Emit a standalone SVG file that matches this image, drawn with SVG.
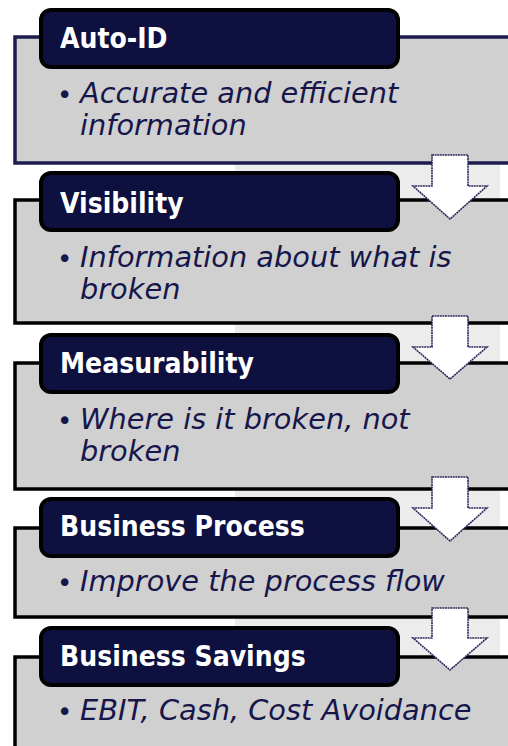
<svg xmlns="http://www.w3.org/2000/svg" width="508" height="746" viewBox="0 0 508 746">
<style>
.panel{fill:#d0d0d0;stroke:#000;stroke-width:3.5}
.panel1{stroke:#1c1c4e}
.hdr{fill:#0e1040;stroke:#000;stroke-width:4}
.ht{font-family:"DejaVu Sans Condensed","DejaVu Sans",sans-serif;font-stretch:condensed;font-weight:bold;font-size:28px;fill:#fff}
.bt{font-family:"DejaVu Sans",sans-serif;font-style:italic;font-size:28.8px;fill:#16164a}
.bl{font-family:"DejaVu Sans",sans-serif;font-size:26px;fill:#16164a}
.arr{fill:#fff;stroke:#2a2a5c;stroke-width:1.6;stroke-dasharray:2 0.6}
</style>
<rect x="0" y="0" width="508" height="746" fill="#fff"/>
<rect x="235" y="164" width="265" height="582" fill="#ececec"/>
<g id="auto-id">
<rect class="panel panel1" x="15" y="37" width="520" height="126"/>
<rect class="hdr" x="41" y="10" width="357" height="57" rx="10"/>
<text class="ht" x="60" y="48">Auto-ID</text>
<text class="bl" x="57" y="104">•</text>
<text class="bt" x="80" y="103">Accurate and efficient</text>
<text class="bt" x="80" y="135">information</text>
</g>
<g id="visibility">
<rect class="panel" x="15" y="200" width="520" height="123"/>
<rect class="hdr" x="41" y="173" width="357" height="57" rx="10"/>
<text class="ht" x="60" y="213">Visibility</text>
<text class="bl" x="57" y="268">•</text>
<text class="bt" x="80" y="267">Information about what is</text>
<text class="bt" x="80" y="299">broken</text>
</g>
<g id="measurability">
<rect class="panel" x="15" y="363" width="520" height="126"/>
<rect class="hdr" x="41" y="335" width="357" height="57" rx="10"/>
<text class="ht" x="60" y="373">Measurability</text>
<text class="bl" x="57" y="430">•</text>
<text class="bt" x="80" y="429">Where is it broken, not</text>
<text class="bt" x="80" y="461">broken</text>
</g>
<g id="business-process">
<rect class="panel" x="15" y="528" width="520" height="89"/>
<rect class="hdr" x="41" y="499" width="357" height="57" rx="10"/>
<text class="ht" x="60" y="536">Business Process</text>
<text class="bl" x="57" y="592">•</text>
<text class="bt" x="80" y="591">Improve the process flow</text>
</g>
<g id="business-savings">
<rect class="panel" x="15" y="657" width="520" height="110"/>
<rect class="hdr" x="41" y="628" width="357" height="57" rx="10"/>
<text class="ht" x="60" y="666">Business Savings</text>
<text class="bl" x="57" y="721">•</text>
<text class="bt" x="80" y="720">EBIT, Cash, Cost Avoidance</text>
</g>
<g id="connectors">
<polygon class="arr" points="432,155 468,155 468,186 487,186 450,219 413,186 432,186"/>
<polygon class="arr" points="432,316 468,316 468,347 487,347 450,379 413,347 432,347"/>
<polygon class="arr" points="432,477 468,477 468,508 487,508 450,541 413,508 432,508"/>
<polygon class="arr" points="432,608 468,608 468,638 487,638 450,670 413,638 432,638"/>
</g>
</svg>
